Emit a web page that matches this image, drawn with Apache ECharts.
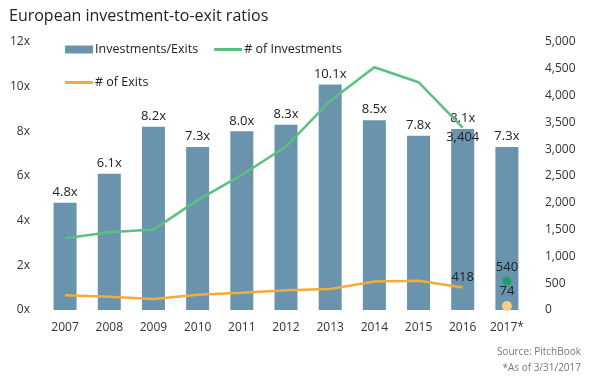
<!DOCTYPE html>
<html>
<head>
<meta charset="utf-8">
<script src="https://cdn.jsdelivr.net/npm/echarts@6/dist/echarts.min.js"></script>
<style>html,body{margin:0;padding:0;background:#fff}#c{width:591px;height:380px}</style>
</head>
<body>
<div id="c"></div>
<script>
var categories = ['2007','2008','2009','2010','2011','2012','2013','2014','2015','2016','2017*'];
var ratios = [4.8, 6.1, 8.2, 7.3, 8.0, 8.3, 10.1, 8.5, 7.8, 8.1, 7.3];
var investments = [1340, 1450, 1500, 2050, 2520, 3050, 3900, 4530, 4250, 3404, null];
var exits = [275, 245, 205, 285, 320, 370, 390, 530, 545, 418, null];
var investments2017 = [null, null, null, null, null, null, null, null, null, null, 540];
var exits2017 = [null, null, null, null, null, null, null, null, null, null, 74];
var leftTicks = [0, 2, 4, 6, 8, 10, 12];
var rightTicks = [0, 500, 1000, 1500, 2000, 2500, 3000, 3500, 4000, 4500, 5000];

var FONT = 'Open Sans';
var LINE_ICON = 'path://M0,0 L28,0 L28,3 L0,3 Z';
var chart = echarts.init(document.getElementById('c'));
chart.setOption({
  animation: false,
  textStyle: { fontFamily: FONT },
  title: {
    text: 'European investment-to-exit ratios',
    left: 4, top: 3,
    textStyle: { fontSize: 16, fontWeight: 'normal', color: '#222', fontFamily: FONT }
  },
  legend: [
    {
      data: [
        { name: 'Investments/Exits', icon: 'rect' },
        { name: '# of Investments', icon: LINE_ICON }
      ],
      left: 60, top: 38, itemWidth: 28, itemHeight: 8, itemGap: 16,
      textStyle: { fontSize: 12.5, color: '#222', padding: [0,0,0,-3] }
    },
    {
      data: [{ name: '# of Exits', icon: LINE_ICON }],
      left: 60, top: 71, itemWidth: 28, itemHeight: 8,
      textStyle: { fontSize: 12.5, color: '#222', padding: [0,0,0,-3] }
    }
  ],
  grid: { left: 43, right: 62, top: 42, bottom: 70 },
  xAxis: {
    type: 'category', data: categories,
    axisLine: { show: false }, axisTick: { show: false },
    axisLabel: { fontSize: 12, color: '#333', margin: 12, interval: 0 }
  },
  yAxis: [
    {
      type: 'value', min: 0, max: 12, interval: 2,
      splitLine: { show: false }, axisLine: { show: false }, axisTick: { show: false },
      axisLabel: { fontSize: 12, color: '#333', margin: 13,
        formatter: function (v) { return leftTicks.indexOf(v) >= 0 ? v + 'x' : ''; } }
    },
    {
      type: 'value', min: 0, max: 5000, interval: 500,
      splitLine: { show: false }, axisLine: { show: false }, axisTick: { show: false },
      axisLabel: { fontSize: 12, color: '#333', margin: 16, align: 'left',
        formatter: function (v) { return rightTicks.indexOf(v) >= 0 ? v.toLocaleString('en-US') : ''; } }
    }
  ],
  series: [
    {
      name: 'Investments/Exits', type: 'bar', data: ratios, barWidth: 23,
      itemStyle: { color: '#6a93ae' },
      label: { show: true, position: 'top', distance: 4, fontSize: 13, color: '#222',
        formatter: function (p) { return p.value.toFixed(1) + 'x'; } }
    },
    {
      name: '# of Investments', type: 'line', yAxisIndex: 1, data: investments,
      symbol: 'none', lineStyle: { color: '#5dbf80', width: 2.5 }, itemStyle: { color: '#5dbf80' }
    },
    {
      name: '# of Exits', type: 'line', yAxisIndex: 1, data: exits,
      symbol: 'none', lineStyle: { color: '#f5ab3c', width: 2.5 }, itemStyle: { color: '#f5ab3c' }
    },
    {
      name: 'inv2016label', type: 'line', yAxisIndex: 1,
      data: [null, null, null, null, null, null, null, null, null, 3404, null],
      symbol: 'circle', symbolSize: 0, lineStyle: { width: 0 },
      label: { show: true, position: 'bottom', distance: 3, fontSize: 13, color: '#222',
        formatter: function (p) { return p.value.toLocaleString('en-US'); } }
    },
    {
      name: 'exit2016label', type: 'line', yAxisIndex: 1,
      data: [null, null, null, null, null, null, null, null, null, 418, null],
      symbol: 'circle', symbolSize: 0, lineStyle: { width: 0 },
      label: { show: true, position: 'top', distance: 4, fontSize: 13, color: '#222' }
    },
    {
      name: 'inv2017', type: 'scatter', yAxisIndex: 1, data: investments2017,
      symbolSize: 9, itemStyle: { color: '#1e9e6c', opacity: 1 },
      label: { show: true, position: 'top', distance: 3, fontSize: 13, color: '#222' }
    },
    {
      name: 'exit2017', type: 'scatter', yAxisIndex: 1, data: exits2017,
      symbolSize: 10, itemStyle: { color: '#f8cd88', opacity: 1 },
      label: { show: true, position: 'top', distance: 3, fontSize: 13, color: '#222' }
    }
  ],
  graphic: [
    { type: 'text', right: 10, top: 347, style: { text: 'Source: PitchBook', fontSize: 10, fill: '#777', fontFamily: FONT, textAlign: 'right' } },
    { type: 'text', right: 10, top: 363, style: { text: '*As of 3/31/2017', fontSize: 10, fill: '#777', fontFamily: FONT, textAlign: 'right' } }
  ]
});
</script>
</body>
</html>
